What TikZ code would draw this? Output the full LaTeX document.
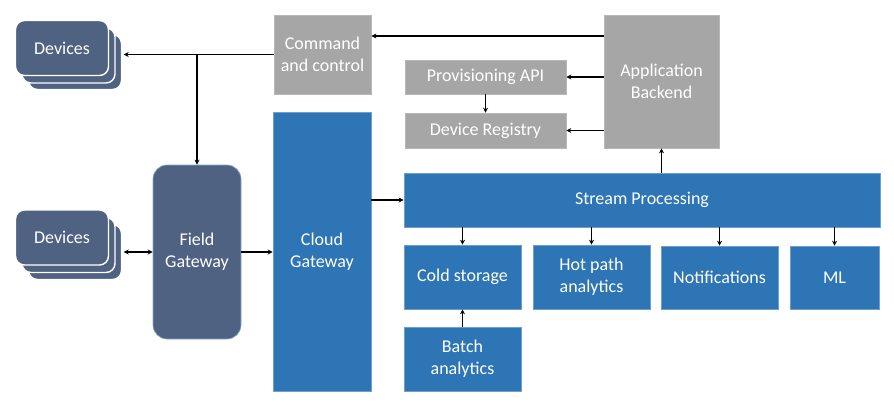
\documentclass[tikz,border=0pt]{standalone}
\usepackage{fontspec}
\setmainfont{Carlito}
\usetikzlibrary{arrows.meta}
\definecolor{slate}{HTML}{506282}
\definecolor{iotblue}{HTML}{2E75B6}
\definecolor{iotgray}{HTML}{A6A6A6}
\tikzset{
  base/.style={inner sep=0pt, align=center, text=white, font=\fontsize{18}{22}\selectfont},
  graybox/.style={base, fill=iotgray, draw=iotgray!80!white, line width=0.6pt},
  bluebox/.style={base, fill=iotblue, draw=iotblue!70!white, line width=0.6pt},
  card/.style={base, fill=slate, draw=white, line width=1.4pt, rounded corners=9pt, minimum width=93pt, minimum height=55pt},
  fieldbox/.style={base, fill=slate, draw=iotblue!60!white, line width=0.6pt, rounded corners=14pt},
  arr/.style={line width=1.3pt, -{Stealth[length=5pt,width=5pt]}},
  dblarr/.style={line width=1.3pt, {Stealth[length=5pt,width=5pt]}-{Stealth[length=5pt,width=5pt]}},
  line/.style={line width=1.3pt}
}
\begin{document}
\begin{tikzpicture}[x=1pt,y=-1pt]
\useasboundingbox[fill=white] (0,0) rectangle (894,405);
% Devices (top)
\node[card] (devA3) at (75,62) {};
\node[card] (devA2) at (68.5,55.5) {};
\node[card] (devA1) at (62,48) {Devices};
% Devices (bottom)
\node[card] (devB3) at (75,252) {};
\node[card] (devB2) at (68.5,245) {};
\node[card] (devB1) at (62,237.5) {Devices};
% Gray boxes
\node[graybox, minimum width=97pt, minimum height=79pt] (cmd) at (322.5,54.5) {Command\\and control};
\node[graybox, minimum width=115pt, minimum height=133pt] (app) at (661.5,81.5) {Application\\Backend};
\node[graybox, minimum width=161pt, minimum height=34pt] (prov) at (485.5,77) {Provisioning API};
\node[graybox, minimum width=161pt, minimum height=35pt] (reg) at (485.5,130.5) {Device Registry};
% Field gateway
\node[fieldbox, minimum width=88pt, minimum height=174pt] (fg) at (197,252) {Field\\Gateway};
% Blue boxes
\node[bluebox, minimum width=98pt, minimum height=279pt] (cloud) at (322,251.5) {Cloud\\Gateway};
\node[bluebox, minimum width=476pt, minimum height=54pt] (stream) at (642,200) {Stream Processing};
\node[bluebox, minimum width=117pt, minimum height=64pt] (cold) at (462.5,277) {Cold storage};
\node[bluebox, minimum width=117pt, minimum height=64pt] (hot) at (591.5,277) {Hot path\\analytics};
\node[bluebox, minimum width=117pt, minimum height=63pt] (notif) at (719.5,277.5) {Notifications};
\node[bluebox, minimum width=89pt, minimum height=63pt] (ml) at (834.5,277.5) {ML};
\node[bluebox, minimum width=117pt, minimum height=64pt] (batch) at (462.5,359) {Batch\\analytics};
% Connectors
\draw[arr] (cmd.west) -- ([xshift=1.5pt]cmd.west -| devA3.east);
\draw[arr] (cmd.west -| fg.north) -- (fg.north);
\draw[arr] ([yshift=45.5pt]app.west) -- ([yshift=45.5pt]app.west -| cmd.east);
\draw[arr] (prov.east -| app.west) -- (prov.east);
\draw[arr] (reg.east -| app.west) -- (reg.east);
\draw[arr] (prov.south) -- (reg.north);
\draw[arr] (stream.north -| app.south) -- (app.south);
\draw[arr] (stream.west -| cloud.east) -- (stream.west);
\draw[arr] (fg.east) -- (fg.east -| cloud.west);
\draw[dblarr] (fg.west) -- ([xshift=1.5pt]fg.west -| devB3.east);
\draw[arr] (stream.south -| cold.north) -- (cold.north);
\draw[arr] (stream.south -| hot.north) -- (hot.north);
\draw[arr] (stream.south -| notif.north) -- (notif.north);
\draw[arr] (stream.south -| ml.north) -- (ml.north);
\draw[arr] (batch.north) -- (cold.south);
\end{tikzpicture}
\end{document}
